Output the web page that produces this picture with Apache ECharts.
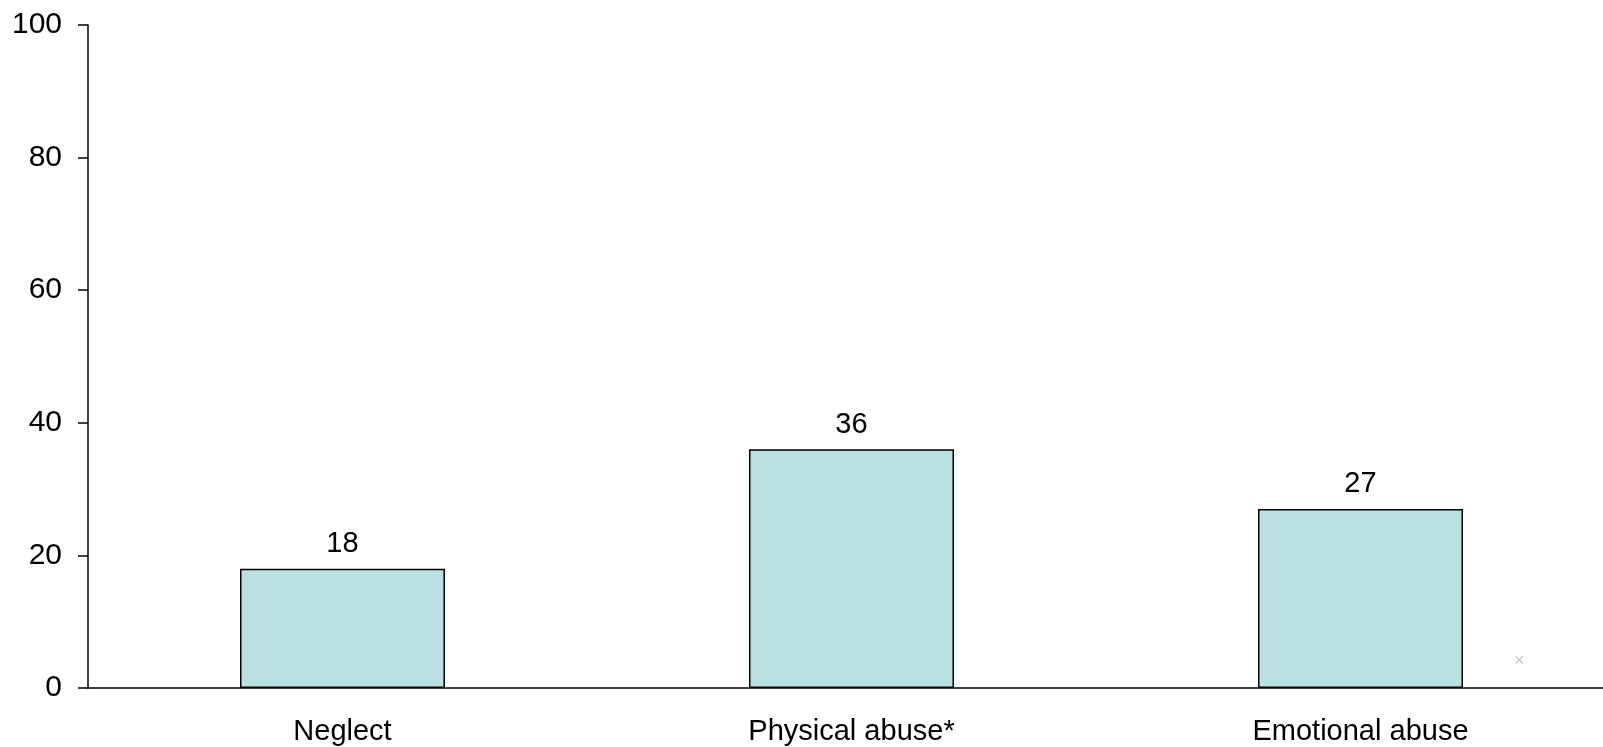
<!DOCTYPE html>
<html><head><meta charset="utf-8">
<script src="https://cdn.jsdelivr.net/npm/echarts@6/dist/echarts.min.js"></script>
<style>html,body{margin:0;padding:0;background:#fff}#c{width:1603px;height:747px}</style>
</head><body><div id="c"></div>
<script>
const categories = ['Neglect', 'Physical abuse*', 'Emotional abuse'];
const values = [18, 36, 27];
const yTicks = [0, 20, 40, 60, 80, 100];

const font = '"Liberation Sans", Arial, sans-serif';
const chart = echarts.init(document.getElementById('c'));
chart.setOption({
  animation: false,
  grid: { left: 88, width: 1527, top: 25, bottom: 59, containLabel: false, outerBoundsMode: 'none' },
  xAxis: {
    type: 'category', data: categories,
    axisLine: { lineStyle: { color: '#000', width: 1.5 } },
    axisTick: { show: false },
    axisLabel: { color: '#000', fontSize: 29, fontFamily: font, margin: 29 }
  },
  yAxis: {
    type: 'value', min: yTicks[0], max: yTicks[yTicks.length - 1], interval: 20,
    axisLine: { show: true, lineStyle: { color: '#000', width: 1.5 } },
    axisTick: { show: true, length: 10, lineStyle: { color: '#000', width: 1.5 } },
    splitLine: { show: false },
    axisLabel: { color: '#000', fontSize: 30, fontFamily: font, margin: 26, padding: [6, 0, 0, 0] }
  },
  series: [{
    type: 'bar', data: values, barWidth: 205,
    itemStyle: { color: '#BAE0E3', borderColor: '#000', borderWidth: 1.5 },
    label: { show: true, position: 'top', distance: 10, color: '#000', fontSize: 29, fontFamily: font }
  }],
  graphic: [{
    type: 'text', left: 1514, top: 652,
    style: { text: '×', fill: '#c8c8c8', fontSize: 18, fontFamily: font }
  }]
});
</script></body></html>
